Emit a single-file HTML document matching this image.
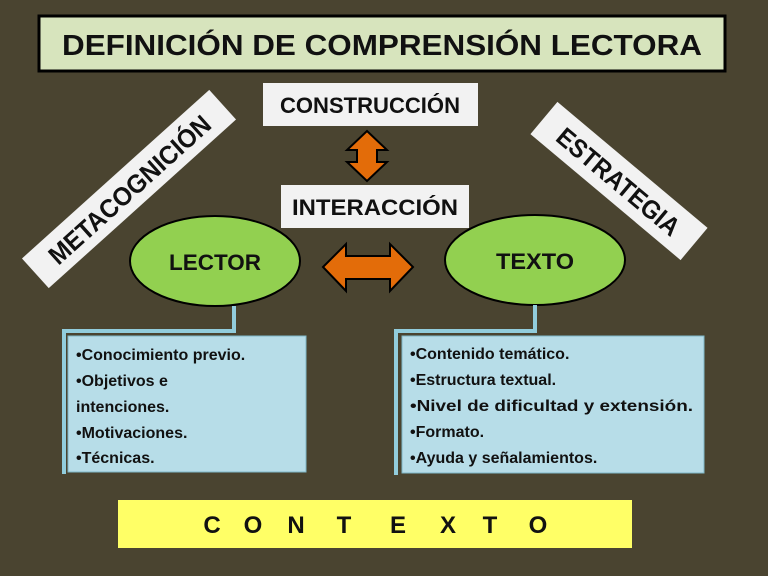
<!DOCTYPE html>
<html><head><meta charset="utf-8"><style>
html,body{margin:0;padding:0;background:#4a4430;}
svg{display:block;}
text{font-family:"Liberation Sans",sans-serif;font-weight:bold;fill:#111;}
</style></head><body>
<svg width="768" height="576" viewBox="0 0 768 576" xmlns="http://www.w3.org/2000/svg">
<rect width="768" height="576" fill="#4a4430"/>
<rect x="39" y="16" width="686" height="55" fill="#d7e4bd" stroke="#000" stroke-width="3"/>
<text x="382" y="55" font-size="29" text-anchor="middle" textLength="640" lengthAdjust="spacingAndGlyphs">DEFINICIÓN DE COMPRENSIÓN LECTORA</text>
<rect x="263" y="83" width="215" height="43" fill="#f2f2f2"/>
<text x="370" y="113" font-size="22" text-anchor="middle" textLength="180" lengthAdjust="spacingAndGlyphs">CONSTRUCCIÓN</text>
<polygon points="367,131 387,150 377,150 377,162 387,162 367,181 347,162 357,162 357,150 347,150" fill="#e36c09" stroke="#000" stroke-width="2"/>
<rect x="281" y="185" width="188" height="43" fill="#f2f2f2"/>
<text x="375" y="215" font-size="22" text-anchor="middle" textLength="166" lengthAdjust="spacingAndGlyphs">INTERACCIÓN</text>
<polygon points="323,267 346,244 346,256 390,256 390,244 413,267 390,291 390,279 346,279 346,291" fill="#e36c09" stroke="#000" stroke-width="2"/>
<ellipse cx="215" cy="261" rx="85" ry="45" fill="#92d050" stroke="#000" stroke-width="2"/>
<text x="215" y="270" font-size="22" text-anchor="middle" textLength="92" lengthAdjust="spacingAndGlyphs">LECTOR</text>
<ellipse cx="535" cy="260" rx="90" ry="45" fill="#92d050" stroke="#000" stroke-width="2"/>
<text x="535" y="269" font-size="22" text-anchor="middle" textLength="78" lengthAdjust="spacingAndGlyphs">TEXTO</text>
<g transform="translate(129,189) rotate(-42)">
<rect x="-126" y="-20" width="252" height="40" fill="#f2f2f2"/>
<text x="0" y="10" font-size="26" text-anchor="middle" textLength="208" lengthAdjust="spacingAndGlyphs">METACOGNICIÓN</text>
</g>
<g transform="translate(619,181) rotate(40)">
<rect x="-98" y="-21" width="196" height="42" fill="#f2f2f2"/>
<text x="0" y="10" font-size="26" text-anchor="middle" textLength="152" lengthAdjust="spacingAndGlyphs">ESTRATEGIA</text>
</g>
<polyline points="234,306 234,331 64,331 64,474" fill="none" stroke="#92cddc" stroke-width="4"/>
<polyline points="535,305 535,331 396,331 396,475" fill="none" stroke="#92cddc" stroke-width="4"/>
<rect x="68" y="336" width="238" height="136" fill="#b7dde8" stroke="#7fb8c8" stroke-width="1"/>
<g font-size="16">
<text x="76" y="360">•Conocimiento previo.</text>
<text x="76" y="386">•Objetivos e</text>
<text x="76" y="412">intenciones.</text>
<text x="76" y="438">•Motivaciones.</text>
<text x="76" y="463">•Técnicas.</text>
</g>
<rect x="402" y="336" width="302" height="137" fill="#b7dde8" stroke="#7fb8c8" stroke-width="1"/>
<g font-size="16">
<text x="410" y="359">•Contenido temático.</text>
<text x="410" y="385">•Estructura textual.</text>
<text x="410" y="411" textLength="283" lengthAdjust="spacingAndGlyphs">•Nivel de dificultad y extensión.</text>
<text x="410" y="437">•Formato.</text>
<text x="410" y="463">•Ayuda y señalamientos.</text>
</g>
<rect x="118" y="500" width="514" height="48" fill="#ffff66"/>
<g font-size="24" text-anchor="middle">
<text x="212" y="533">C</text><text x="253" y="533">O</text><text x="296" y="533">N</text><text x="344" y="533">T</text><text x="398" y="533">E</text><text x="448" y="533">X</text><text x="490" y="533">T</text><text x="538" y="533">O</text>
</g>
</svg>
</body></html>
